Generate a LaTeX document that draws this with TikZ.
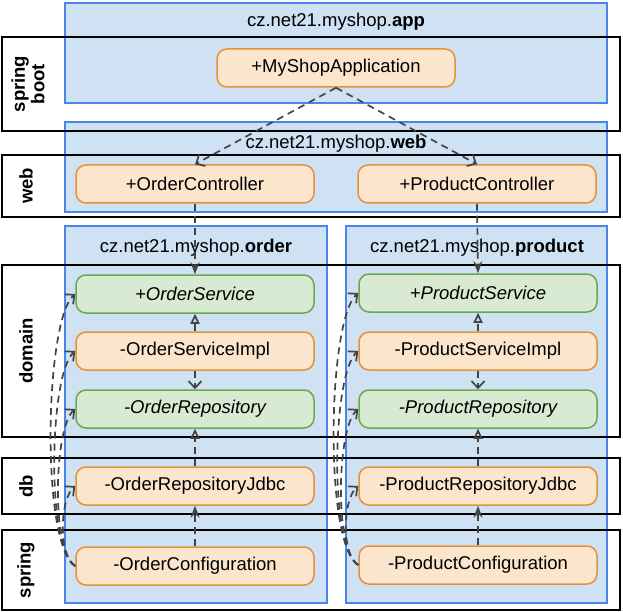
\documentclass[tikz,border=0pt]{standalone}
\usepackage{fontspec}
\setmainfont{Liberation Sans}
\usetikzlibrary{arrows.meta}

\definecolor{pkgfill}{HTML}{CFE2F3}
\definecolor{pkgline}{HTML}{4A86E8}
\definecolor{clsfill}{HTML}{FCE5CD}
\definecolor{clsline}{HTML}{E69138}
\definecolor{ifcfill}{HTML}{D9EAD3}
\definecolor{ifcline}{HTML}{6AA84F}
\definecolor{depline}{HTML}{434343}

\newcommand{\diagfont}{\fontsize{18.5}{19.5}\selectfont}

\tikzset{
  pkg/.style={draw=pkgline, fill=pkgfill, line width=1.2pt, inner sep=0pt},
  title/.style={font=\diagfont},
  layer/.style={draw=black, line width=1.5pt, inner sep=0pt, minimum width=618pt},
  layerlbl/.style={font=\diagfont\bfseries, rotate=90, align=center},
  cls/.style={draw=clsline, fill=clsfill, line width=1.5pt, rounded corners=10pt,
    minimum width=238pt, minimum height=38pt, inner sep=0pt, font=\diagfont},
  ifc/.style={cls, draw=ifcline, fill=ifcfill, font=\diagfont\itshape},
  dep/.style={draw=depline, line width=1.7pt, dash pattern=on 7pt off 5pt},
  uses/.style={dep, -{Straight Barb[length=7pt,width=13pt]}},
  calls/.style={dep, -{Stealth[length=12pt,width=9pt]}},
  impl/.style={dep, -{Triangle[open,length=10pt,width=9pt]}}
}

\begin{document}
\begin{tikzpicture}[x=1pt, y=1pt]
  \useasboundingbox (0,0) rectangle (623,-612);

  % packages
  \node[pkg, minimum width=542pt, minimum height=100pt] (app) at (336,-53) {};
  \node[pkg, minimum width=542pt, minimum height=90pt] (web) at (336,-167) {};
  \node[pkg, minimum width=262pt, minimum height=377pt] (order) at (196,-414.5) {};
  \node[pkg, minimum width=261pt, minimum height=377pt] (product) at (476.5,-414.5) {};

  \node[title] (apptitle) at (336,-22) {cz.net21.myshop.\textbf{app}};
  \node[title] (webtitle) at (336,-144) {cz.net21.myshop.\textbf{web}};
  \node[title] (ordertitle) at (196,-248) {cz.net21.myshop.\textbf{order}};
  \node[title] (producttitle) at (477,-248) {cz.net21.myshop.\textbf{product}};

  % layers
  \node[layer, minimum height=94pt] (springboot) at (311,-84) {};
  \node[layer, minimum height=62pt] (weblayer) at (311,-186) {};
  \node[layer, minimum height=172pt] (domain) at (311,-351) {};
  \node[layer, minimum height=56pt] (db) at (311,-486) {};
  \node[layer, minimum height=80pt] (spring) at (311,-570) {};

  \node[layerlbl] (springbootlbl) at (28,-84) {spring\\boot};
  \node[layerlbl] (weblbl) at (26,-186) {web};
  \node[layerlbl] (domainlbl) at (26,-351) {domain};
  \node[layerlbl] (dblbl) at (26,-486) {db};
  \node[layerlbl] (springlbl) at (26,-570) {spring};

  % classes
  \node[cls] (shopapp) at (336,-68) {+MyShopApplication};
  \node[cls] (orderctl) at (195,-184) {+OrderController};
  \node[cls] (productctl) at (477,-184) {+ProductController};

  \node[ifc] (ordersvc) at (195,-294) {+OrderService};
  \node[cls] (ordersvcimpl) at (195,-351) {-OrderServiceImpl};
  \node[ifc] (orderrepo) at (195,-409) {-OrderRepository};
  \node[cls] (orderjdbc) at (195,-486) {-OrderRepositoryJdbc};
  \node[cls] (orderconf) at (195,-566) {-OrderConfiguration};

  \node[ifc] (productsvc) at (478,-293) {+ProductService};
  \node[cls] (productsvcimpl) at (478,-351) {-ProductServiceImpl};
  \node[ifc] (productrepo) at (478,-409) {-ProductRepository};
  \node[cls] (productjdbc) at (478,-486) {-ProductRepositoryJdbc};
  \node[cls] (productconf) at (478,-565) {-ProductConfiguration};

  % dependencies
  \path (shopapp.south) edge[uses] (orderctl.north)
                        edge[uses] (productctl.north)
        (ordersvcimpl.south) edge[uses] (orderrepo.north)
        (productsvcimpl.south) edge[uses] (productrepo.north);

  \path (orderctl.south) edge[calls] (ordersvc.north)
        (productctl.south) edge[calls] (productsvc.north)
        (orderconf.north) edge[calls] (orderjdbc.south)
        (productconf.north) edge[calls] (productjdbc.south);

  \path (ordersvcimpl.north) edge[impl] (ordersvc.south)
        (orderjdbc.north) edge[impl] (orderrepo.south)
        (productsvcimpl.north) edge[impl] (productsvc.south)
        (productjdbc.north) edge[impl] (productrepo.south);

  \path (orderconf.west) edge[uses, out=150, in=220, distance=40pt] (ordersvc.west)
                         edge[uses, out=150, in=220, distance=34pt] (ordersvcimpl.west)
                         edge[uses, out=150, in=220, distance=28pt] (orderrepo.west)
                         edge[uses, out=150, in=220, distance=20pt] (orderjdbc.west)
        (productconf.west) edge[uses, out=150, in=220, distance=40pt] (productsvc.west)
                           edge[uses, out=150, in=220, distance=34pt] (productsvcimpl.west)
                           edge[uses, out=150, in=220, distance=28pt] (productrepo.west)
                           edge[uses, out=150, in=220, distance=20pt] (productjdbc.west);
\end{tikzpicture}
\end{document}
